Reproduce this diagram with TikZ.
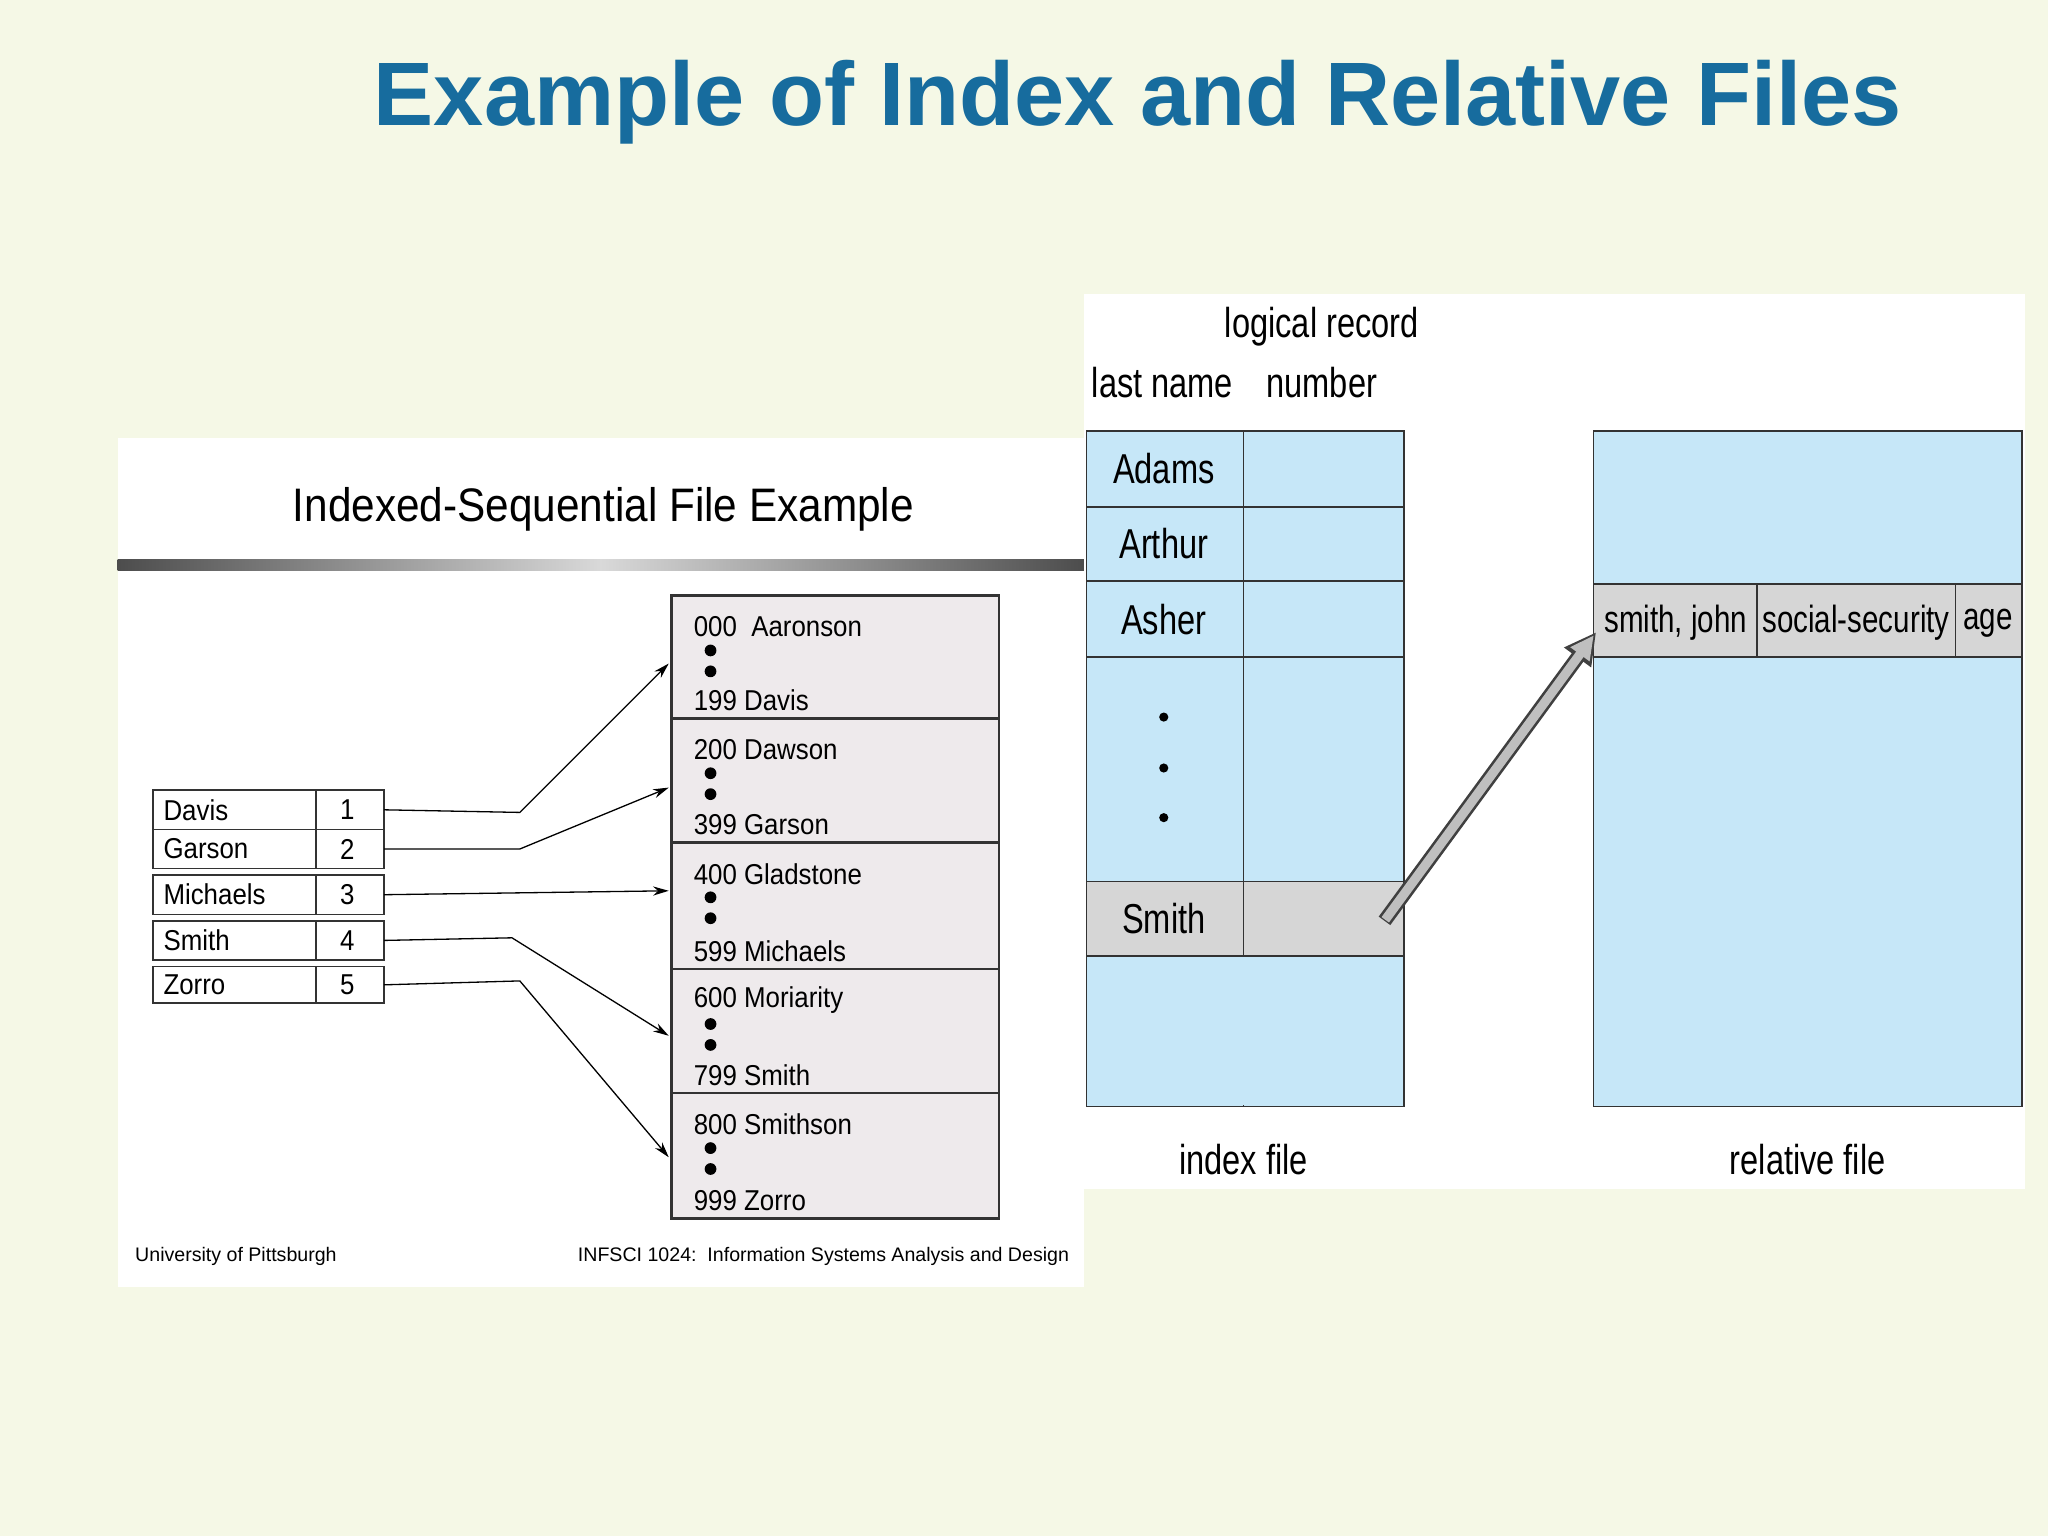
\documentclass[tikz,border=0pt]{standalone}
\usepackage{fontspec}
\setmainfont{Liberation Sans}
\newfontfamily\narrow[FakeStretch=0.78]{Liberation Sans}
\newfontfamily\semin[FakeStretch=0.9]{Liberation Sans}
\usetikzlibrary{arrows.meta}
\definecolor{bgc}{HTML}{F5F8E6}
\definecolor{titc}{HTML}{176C9E}
\definecolor{lav}{HTML}{EEEAEC}
\definecolor{ltb}{HTML}{C6E7F8}
\definecolor{grc}{HTML}{D6D6D6}
\tikzset{
 cell/.style={draw=black!80,line width=1.2pt},
 lt/.style={font=\semin\fontsize{22}{24}\selectfont,inner sep=0pt,anchor=west},
 rt/.style={font=\narrow\fontsize{32}{34}\selectfont,inner sep=0pt},
 rs/.style={font=\narrow\fontsize{29}{31}\selectfont,inner sep=0pt},
 con/.style={line width=1pt,-{Stealth[length=12pt,width=7pt]}},
}
\begin{document}
\begin{tikzpicture}[x=1pt,y=-1pt]
\fill[bgc] (0,0) rectangle (1568,1176);
\useasboundingbox (0,0) rectangle (1568,1176);
\node[font=\fontsize{69}{74}\selectfont\bfseries,text=titc] (title) at (871,78) {Example of Index and Relative Files};
% left panel
\fill[white] (90,335) rectangle (830,985);
\node[font=\semin\fontsize{36}{38}\selectfont] (ltitle) at (462,390) {Indexed-Sequential File Example};
\shade[left color=black!70,right color=black!70,middle color=black!15] (90,428) rectangle (830,437);
\foreach \n/\v/\a/\b in {Davis/1/605/635,Garson/2/635/665,Michaels/3/670/700,Smith/4/705/735,Zorro/5/740/768}{
 \draw[cell,fill=white] (117,\a) rectangle (242,\b);
 \draw[cell,fill=white] (242,\a) rectangle (294,\b);
 \node[lt] (k\v) at (125,{(\a+\b)/2}) {\n};
 \node[lt,anchor=center] (n\v) at (266,{(\a+\b)/2}) {\v};
 \coordinate (e\v) at (294,{(\a+\b)/2});
}
\foreach \i/\a/\b/\t/\u in {1/456/550/000\ \ Aaronson/199 Davis,2/550/645/200 Dawson/399 Garson,3/645/742/400 Gladstone/599 Michaels,4/742/837/600 Moriarity/799 Smith,5/837/933/800 Smithson/999 Zorro}{
 \draw[cell,line width=1.8pt,fill=lav] (514,\a) rectangle (765,\b);
 \node[lt] (t\i) at (531,\a+24) {\t};
 \node[lt] (u\i) at (531,\b-14) {\u};
 \fill (544,\a+42) circle (4.5) (544,\a+58) circle (4.5);
}
\coordinate (b1) at (512,508); \coordinate (b2) at (512,603); \coordinate (b3) at (512,682);
\coordinate (b4) at (512,793); \coordinate (b5) at (512,886);
\draw[con] (e1) -- (398,622) -- (b1);
\draw[con] (e2) -- (398,650) -- (b2);
\draw[con] (e3) -- (b3);
\draw[con] (e4) -- (392,718) -- (b4);
\draw[con] (e5) -- (398,751) -- (b5);
\node[font=\fontsize{15}{16}\selectfont,anchor=west] (f1) at (100,962) {University of Pittsburgh};
\node[font=\fontsize{15}{16}\selectfont,anchor=east] (f2) at (822,962) {INFSCI 1024:\ \ Information Systems Analysis and Design};
% right panel
\fill[white] (830,225) rectangle (1550,910);
\node[rt] (h1) at (1012,250) {logical record};
\node[rt] (h2) at (1012,293) {number};
\node[rt] (h3) at (890,293) {last name};
\foreach \a/\b/\n/\c in {330/388/Adams/ltb,388/445/Arthur/ltb,445/503/Asher/ltb,503/675/{}/ltb,675/732/Smith/grc,732/847/{}/ltb}{
 \draw[cell,fill=\c] (832,\a) rectangle (952,\b);
 \draw[cell,fill=\c] (952,\a) rectangle (1075,\b);
 \node[rt] at (891,{(\a+\b)/2}) {\n};
}
\fill[ltb] (833,733) rectangle (1074,846);
\draw[cell] (832,732) rectangle (1075,847);
\foreach \y in {549,588,626} \fill (891,\y) circle (3.5);
\draw[cell,fill=ltb] (1220,330) rectangle (1548,847);
\draw[cell,fill=grc] (1220,447) rectangle (1548,503);
\draw[cell] (1345,447) -- (1345,503) (1497,447) -- (1497,503);
\node[rs] (r1) at (1283,477) {smith, john};
\node[rs] (r2) at (1421,477) {social-security};
\node[rs] (r3) at (1522,477) {age};
\coordinate (s) at (1060,705); \coordinate (r) at (1222,484);
\draw[line width=11pt,-{Triangle[length=24pt,width=24pt]},black!75] (s) -- (r);
\draw[line width=7pt,-{Triangle[length=18pt,width=17pt]},black!25,shorten >=3pt,shorten <=1pt] (s) -- (r);
\node[rt] (l1) at (952,888) {index file};
\node[rt] (l2) at (1384,888) {relative file};
\end{tikzpicture}
\end{document}
